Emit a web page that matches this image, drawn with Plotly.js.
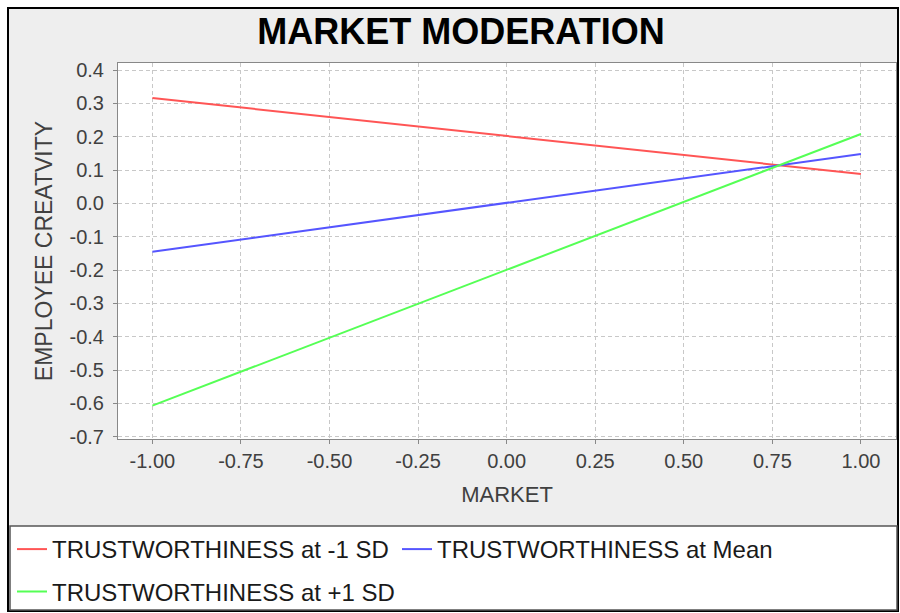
<!DOCTYPE html>
<html>
<head>
<meta charset="utf-8">
<script src="https://cdn.plot.ly/plotly-3.0.1.min.js"></script>
<style>html,body{margin:0;padding:0;background:#fff;}#chart{width:900px;height:613px;}</style>
</head>
<body>
<div id="chart"></div>
<script>
// ---- data ----
var market = [-1.0, 1.0];
var lowSD = [0.316, 0.088];      // TRUSTWORTHINESS at -1 SD
var meanSD = [-0.145, 0.148];    // TRUSTWORTHINESS at Mean
var highSD = [-0.607, 0.208];    // TRUSTWORTHINESS at +1 SD
var seriesNames = ['TRUSTWORTHINESS at -1 SD', 'TRUSTWORTHINESS at Mean', 'TRUSTWORTHINESS at +1 SD'];
var xTickVals = [-1.0, -0.75, -0.5, -0.25, 0.0, 0.25, 0.5, 0.75, 1.0];
var xTickText = ['-1.00', '-0.75', '-0.50', '-0.25', '0.00', '0.25', '0.50', '0.75', '1.00'];
var yTickVals = [0.4, 0.3, 0.2, 0.1, 0.0, -0.1, -0.2, -0.3, -0.4, -0.5, -0.6, -0.7];
var yTickText = ['0.4', '0.3', '0.2', '0.1', '0.0', '-0.1', '-0.2', '-0.3', '-0.4', '-0.5', '-0.6', '-0.7'];

// ---- layout geometry ----
var W = 900, H = 613;
var mL = 118, mR = 4, mT = 63, mB = 174;
var pw = W - mL - mR, ph = H - mT - mB;
function px(x) { return (x - mL) / pw; }
function py(y) { return (H - mB - y) / ph; }

var font = 'Liberation Sans, Arial, sans-serif';
var lineW = 2;

var traces = [
  {x: market, y: lowSD, name: seriesNames[0], mode: 'lines', line: {color: '#ff5555', width: lineW}, legend: 'legend'},
  {x: market, y: meanSD, name: seriesNames[1], mode: 'lines', line: {color: '#5555ff', width: lineW}, legend: 'legend2'},
  {x: market, y: highSD, name: seriesNames[2], mode: 'lines', line: {color: '#55ff55', width: lineW}, legend: 'legend3'}
];

function legendAt(xp, yp) {
  return {x: px(xp), y: py(yp), xanchor: 'left', yanchor: 'middle', orientation: 'h',
    bgcolor: 'rgba(0,0,0,0)', borderwidth: 0, itemwidth: 30,
    font: {family: font, size: 24, color: '#1a1a1a'}};
}

var layout = {
  width: W, height: H,
  margin: {l: mL, r: mR, t: mT, b: mB, pad: 0, autoexpand: false},
  paper_bgcolor: '#ffffff',
  plot_bgcolor: '#ffffff',
  showlegend: true,
  title: {text: 'MARKET MODERATION', x: 461 / W, xref: 'container', xanchor: 'center',
    y: 1 - 31.5 / H, yref: 'container', yanchor: 'middle',
    font: {family: font, size: 36, color: '#000000', weight: 'bold'}},
  xaxis: {
    range: [-1.097, 1.099], tickvals: xTickVals, ticktext: xTickText,
    showline: true, linecolor: '#888888', linewidth: 1, mirror: true,
    ticks: 'outside', ticklen: 4, tickcolor: '#888888',
    showgrid: true, gridcolor: '#c8c8c8', griddash: '4px,3px', gridwidth: 1,
    zeroline: false,
    tickfont: {family: font, size: 20, color: '#404040'},
    title: {text: 'MARKET', standoff: 15, font: {family: font, size: 22, color: '#404040'}}
  },
  yaxis: {
    range: [-0.707, 0.421], tickvals: yTickVals, ticktext: yTickText,
    showline: true, linecolor: '#888888', linewidth: 1, mirror: true,
    ticks: 'outside', ticklen: 4, tickcolor: '#888888', ticklabelstandoff: 5,
    showgrid: true, gridcolor: '#c8c8c8', griddash: '4px,3px', gridwidth: 1,
    zeroline: false,
    tickfont: {family: font, size: 20, color: '#404040'},
    title: {text: 'EMPLOYEE CREATVITY', standoff: 10, font: {family: font, size: 23, color: '#404040'}}
  },
  legend: legendAt(12, 549.5),
  legend2: legendAt(397, 549.5),
  legend3: legendAt(12, 592),
  shapes: [
    {type: 'rect', xref: 'paper', yref: 'paper', layer: 'below',
      x0: px(8), x1: px(898), y0: py(8), y1: py(611),
      fillcolor: '#eeeeee', line: {color: '#000000', width: 2}},
    {type: 'rect', xref: 'paper', yref: 'paper', layer: 'below',
      x0: 0, x1: 1, y0: 0, y1: 1, fillcolor: '#ffffff', line: {width: 0}},
    {type: 'rect', xref: 'paper', yref: 'paper', layer: 'below',
      x0: px(10), x1: px(897), y0: py(526), y1: py(610),
      fillcolor: '#ffffff', line: {color: '#555555', width: 1.5}}
  ]
};

Plotly.newPlot('chart', traces, layout, {staticPlot: true, displayModeBar: false});
</script>
</body>
</html>
